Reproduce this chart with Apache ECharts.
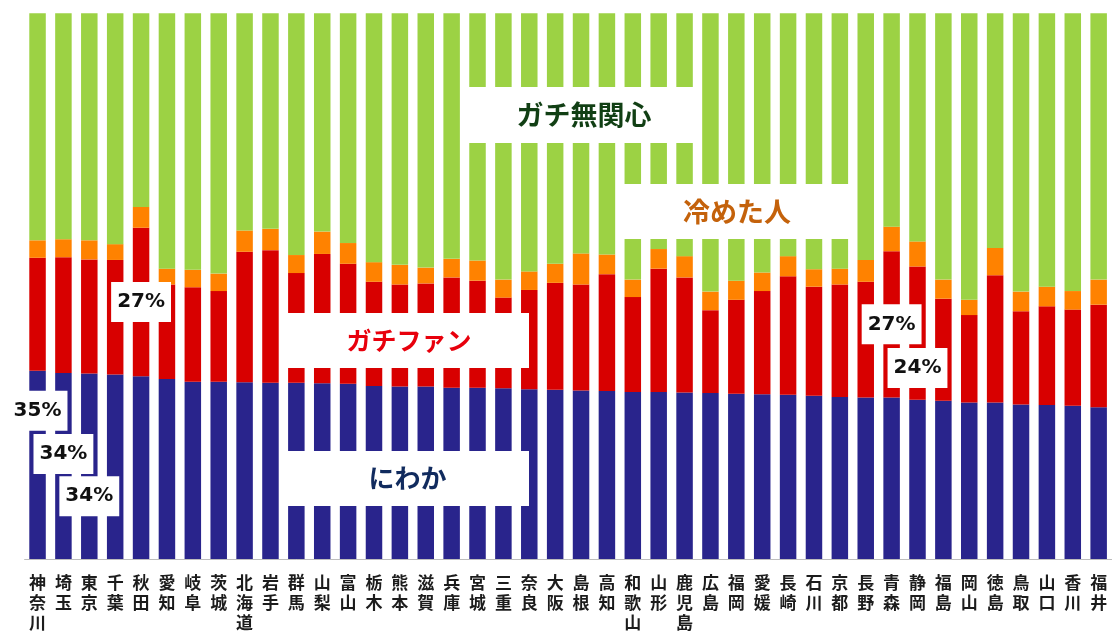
<!DOCTYPE html>
<html>
<head>
<meta charset="utf-8">
<style>
  html, body { margin: 0; padding: 0; background: #fff; }
  #chart { width: 1114px; height: 634px; }
</style>
<script src="https://cdn.jsdelivr.net/npm/echarts@6/dist/echarts.min.js"></script>
</head>
<body>
<div id="chart"></div>
<script>
// Prefectures, ordered by the share of "にわか"
const prefectures = ['神奈川','埼玉','東京','千葉','秋田','愛知','岐阜','茨城','北海道','岩手',
  '群馬','山梨','富山','栃木','熊本','滋賀','兵庫','宮城','三重','奈良',
  '大阪','島根','高知','和歌山','山形','鹿児島','広島','福岡','愛媛','長崎',
  '石川','京都','長野','青森','静岡','福島','岡山','徳島','鳥取','山口','香川','福井'];

// Shares (%) of each group per prefecture
const niwaka = [34.5, 34.1, 34.0, 33.8, 33.5, 33.0, 32.5, 32.5, 32.4, 32.3,
  32.3, 32.2, 32.1, 31.7, 31.6, 31.6, 31.4, 31.4, 31.3, 31.1,
  31.0, 30.9, 30.8, 30.6, 30.6, 30.5, 30.4, 30.3, 30.2, 30.1,
  29.9, 29.7, 29.6, 29.6, 29.2, 29.0, 28.7, 28.7, 28.3, 28.2, 28.1, 27.8];
const gachiFan = [20.7, 21.2, 20.9, 21.0, 27.2, 17.3, 17.3, 16.6, 23.9, 24.3,
  20.1, 23.7, 22.0, 19.1, 18.7, 18.9, 20.2, 19.6, 16.6, 18.2,
  19.6, 19.4, 21.4, 17.4, 22.6, 21.1, 15.2, 17.2, 18.9, 21.7,
  20.0, 20.6, 21.2, 26.8, 24.4, 18.7, 16.0, 23.3, 17.1, 18.1, 17.6, 18.8];
const sameta = [3.2, 3.3, 3.5, 2.9, 3.8, 2.9, 3.2, 3.2, 3.9, 3.9,
  3.3, 4.1, 3.8, 3.6, 3.6, 2.9, 3.4, 3.7, 3.3, 3.4,
  3.5, 5.7, 3.6, 3.2, 3.6, 3.9, 3.4, 3.5, 3.4, 3.7,
  3.2, 2.9, 4.0, 4.5, 4.6, 3.5, 2.8, 5.0, 3.6, 3.6, 3.4, 4.6];
const mukanshin = [41.6, 41.4, 41.6, 42.3, 35.5, 46.8, 47.0, 47.7, 39.8, 39.5,
  44.3, 40.0, 42.1, 45.6, 46.1, 46.6, 45.0, 45.3, 48.8, 47.3,
  45.9, 44.0, 44.2, 48.8, 43.2, 44.5, 51.0, 49.0, 47.5, 44.5,
  46.9, 46.8, 45.2, 39.1, 41.8, 48.8, 52.5, 43.0, 51.0, 50.1, 50.9, 48.8];

// Group names
const groupNames = ['にわか', 'ガチファン', '冷めた人', 'ガチ無関心'];

// Which bars carry a value label
const niwakaLabelled = ['神奈川', '埼玉', '東京'];
const fanLabelled = ['秋田', '青森', '静岡'];

const colors = ['#29248c', '#d80000', '#ff8200', '#9cd244'];

// vertical offsets keep the stacked value boxes from colliding
const labelShift = { '神奈川': -54, '埼玉': -12, '東京': 30, '秋田': 0, '青森': 0, '静岡': 35 };

const valueLabel = {
  show: true,
  position: 'inside',
  formatter: p => Math.round(p.value) + '%',
  fontFamily: 'DejaVu Sans',
  fontWeight: 'bold',
  fontSize: 20,
  lineHeight: 22,
  color: '#111',
  backgroundColor: '#fff',
  padding: [9, 6, 9, 6]
};

function seriesData(values, labelled) {
  return values.map((v, i) => {
    const name = prefectures[i];
    if (labelled.indexOf(name) < 0) return v;
    return { value: v, label: Object.assign({}, valueLabel, { offset: [0, labelShift[name]] }) };
  });
}

const chart = echarts.init(document.getElementById('chart'), null, { renderer: 'canvas' });

function makeSeries(name, values, color, labelled) {
  return {
    name: name,
    type: 'bar',
    stack: 'total',
    barWidth: 16.5,
    data: seriesData(values, labelled || []),
    itemStyle: { color: color },
    label: { show: false },
    emphasis: { disabled: true },
    animation: false
  };
}

// White annotation boxes naming each group
function groupBox(text, x, y, w, h, color, size) {
  return [
    {
      type: 'rect',
      z: 100,
      left: x,
      top: y,
      shape: { width: w, height: h },
      style: { fill: '#ffffff', stroke: null }
    },
    {
      type: 'text',
      z: 101,
      x: x + w / 2 + 2,
      y: y + h / 2,
      style: {
        text: text,
        fill: color,
        font: 'bold ' + size + 'px "Noto Sans CJK JP"',
        align: 'center',
        verticalAlign: 'middle'
      }
    }
  ];
}

chart.setOption({
  backgroundColor: '#fff',
  animation: false,
  grid: { left: 24.6, right: 2.4, top: 13.3, bottom: 75, containLabel: false },
  xAxis: {
    type: 'category',
    data: prefectures,
    axisLine: { show: true, lineStyle: { color: '#bdbdbd', width: 1 } },
    axisTick: { show: false },
    axisLabel: {
      interval: 0,
      margin: 14,
      fontFamily: 'Noto Sans CJK JP',
      fontWeight: 'bold',
      fontSize: 17,
      lineHeight: 20,
      color: '#1c1c1c',
      formatter: v => v.split('').join('\n'),
      verticalAlign: 'top'
    }
  },
  yAxis: { type: 'value', min: 0, max: 100, show: false },
  series: [
    makeSeries(groupNames[0], niwaka, colors[0], niwakaLabelled),
    makeSeries(groupNames[1], gachiFan, colors[1], fanLabelled),
    makeSeries(groupNames[2], sameta, colors[2]),
    makeSeries(groupNames[3], mukanshin, colors[3])
  ],
  graphic: [].concat(
    groupBox(groupNames[3], 463, 87, 238, 56, '#113f14', 27),
    groupBox(groupNames[2], 618, 184, 234, 55, '#c4620b', 27),
    groupBox(groupNames[1], 285, 313, 244, 55, '#e8000c', 25),
    groupBox(groupNames[0], 282, 451, 247, 55, '#112b5e', 26)
  )
});
</script>
</body>
</html>
